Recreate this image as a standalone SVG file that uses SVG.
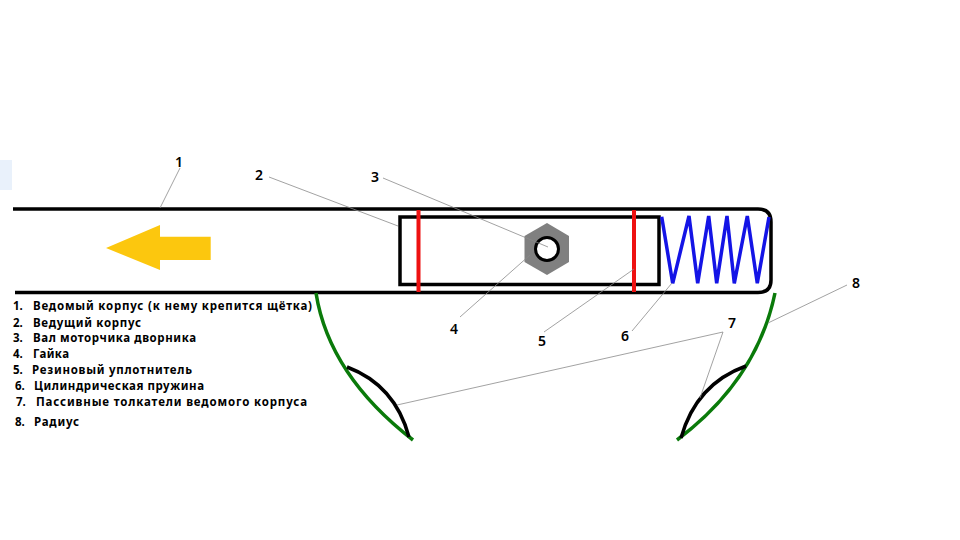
<svg xmlns="http://www.w3.org/2000/svg" width="960" height="540" viewBox="0 0 960 540">
<style>
.body{fill:none;stroke:#000;stroke-width:3.500}
.red{fill:none;stroke:#ee1111;stroke-width:4}
.lead{fill:none;stroke:#8a8a8a;stroke-width:.8}
.green{fill:none;stroke:#0a7a0a;stroke-width:3.500}
.push{fill:none;stroke:#000;stroke-width:3.500}
text{font-family:"Noto Sans","DejaVu Sans",sans-serif;font-weight:700;fill:#000}
.n{font-size:14px;text-anchor:middle;font-weight:600}
.l{font-size:11.500px}
</style>
<rect width="960" height="540" fill="#fff"/>
<rect x="0" y="160" width="12" height="30" fill="#e9f1fb"/>
<g id="body">
<path class="body" d="M13 209H758Q771 209 771 222V280Q771 292.500 758 292.500H15"/>
<rect class="body" x="400" y="217" width="259" height="67.500"/>
</g>
<g id="seals">
<path class="red" d="M418.500 210V292M634 210V292"/>
</g>
<g id="nut">
<polygon points="547,223 569,236 569,262 547,275 524.500,262 524.500,236" fill="#808080"/>
<circle cx="547" cy="249" r="11.500" fill="#fff" stroke="#000" stroke-width="3"/>
</g>
<g id="spring">
<polyline points="661.700,216.700 672.700,283.300 689,216 697.700,283.300 708.700,216 716.700,283.300 727,216 734.300,283.300 747.300,216 757.300,283.300 769,217" fill="none" stroke="#1414e6" stroke-width="3.500" stroke-linejoin="miter"/>
</g>
<g id="arrow">
<polygon points="106,248 160,225 160,236.700 210.700,236.700 210.700,260 160,260 160,270" fill="#fcc70e"/>
</g>
<g id="radius">
<path class="green" d="M316 293Q329 375 413 440"/>
<path class="green" d="M775 293Q757 380 677 440"/>
</g>
<g id="pushers">
<path class="push" d="M347 367Q395 385 409 437"/>
<path class="push" d="M746 366Q696 384 681 438"/>
</g>
<g id="connectors">
<path class="lead" d="M180 168L160 208M269 177L398 226M383 178L548 247M460 317L530 255M544 332L634 269M632 331L672 283M397 405L723 332L700 398M847 285L768 323"/>
</g>
<g id="numbers">
<text class="n" x="179" y="167">1</text>
<text class="n" x="259" y="180">2</text>
<text class="n" x="375" y="182">3</text>
<text class="n" x="454" y="334">4</text>
<text class="n" x="542" y="346">5</text>
<text class="n" x="625" y="341">6</text>
<text class="n" x="732" y="328">7</text>
<text class="n" x="856" y="288">8</text>
</g>
<g id="legend">
<text class="l" x="13" y="310">1.<tspan x="33" textLength="279" lengthAdjust="spacing">Ведомый корпус (к нему крепится щётка)</tspan></text>
<text class="l" x="13" y="327">2.<tspan x="33" textLength="108" lengthAdjust="spacing">Ведущий корпус</tspan></text>
<text class="l" x="13" y="342">3.<tspan x="33" textLength="163" lengthAdjust="spacing">Вал моторчика дворника</tspan></text>
<text class="l" x="13" y="358">4.<tspan x="33" textLength="36" lengthAdjust="spacing">Гайка</tspan></text>
<text class="l" x="13" y="374">5.<tspan x="32" textLength="160" lengthAdjust="spacing">Резиновый уплотнитель</tspan></text>
<text class="l" x="15" y="390">6.<tspan x="34" textLength="170" lengthAdjust="spacing">Цилиндрическая пружина</tspan></text>
<text class="l" x="16" y="406">7.<tspan x="36" textLength="271" lengthAdjust="spacing">Пассивные толкатели ведомого корпуса</tspan></text>
<text class="l" x="15" y="426">8.<tspan x="34" textLength="45" lengthAdjust="spacing">Радиус</tspan></text>
</g>
</svg>
